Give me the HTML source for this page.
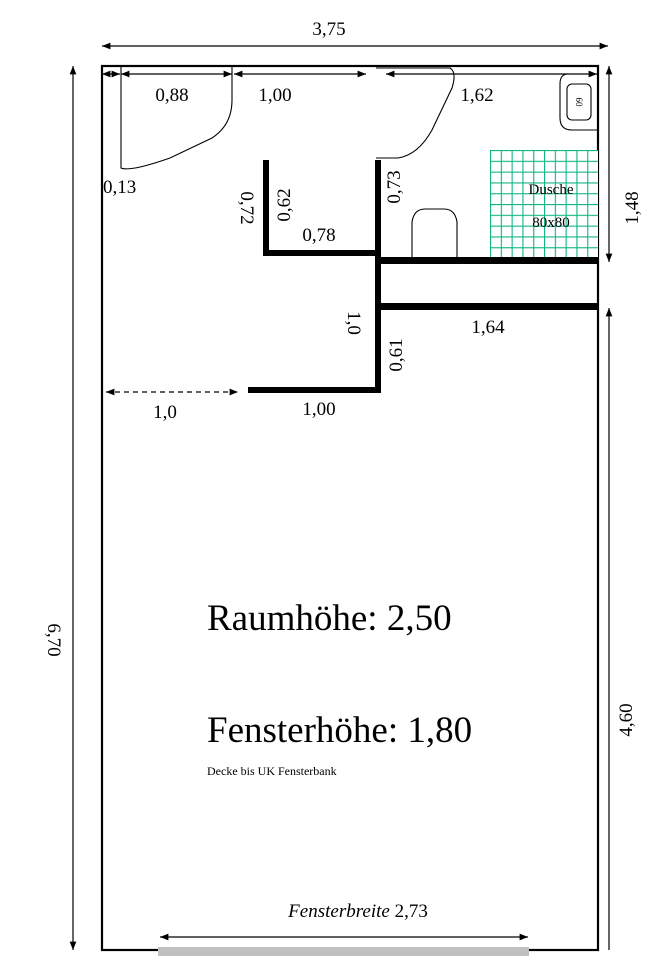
<!DOCTYPE html><html><head><style>body{margin:0;background:#fff}svg{display:block}text{font-family:"Liberation Serif",serif;fill:#000}</style></head><body>
<svg width="666" height="960" viewBox="0 0 666 960">
<defs><marker id="a" viewBox="0 0 10 10" refX="10" refY="5" markerWidth="7" markerHeight="7" orient="auto-start-reverse"><path d="M0,1L10,5L0,9z" fill="#000"/></marker>
<pattern id="g" width="10.8" height="10.8" patternUnits="userSpaceOnUse" x="490" y="150"><rect width="10.8" height="10.8" fill="#fff"/><path d="M0,0H10.8M0,0V10.8" stroke="#10b585" stroke-width="2.2"/></pattern></defs>
<g fill="none" stroke="#000" stroke-width="1.2">
<line x1="102" y1="46" x2="608" y2="46" marker-start="url(#a)" marker-end="url(#a)"/>
<line x1="73" y1="66" x2="73" y2="950" marker-start="url(#a)" marker-end="url(#a)"/>
<line x1="609" y1="66" x2="609" y2="262" marker-start="url(#a)" marker-end="url(#a)"/>
<line x1="609" y1="308" x2="609" y2="950" marker-start="url(#a)"/>
<line x1="160" y1="937" x2="528" y2="937" marker-start="url(#a)" marker-end="url(#a)"/>
<line x1="102" y1="74" x2="120" y2="74" marker-start="url(#a)" marker-end="url(#a)"/>
<line x1="121" y1="74" x2="232" y2="74" marker-start="url(#a)" marker-end="url(#a)"/>
<line x1="234" y1="74" x2="366" y2="74" marker-start="url(#a)" marker-end="url(#a)"/>
<line x1="386" y1="74" x2="597" y2="74" marker-start="url(#a)" marker-end="url(#a)"/>
<line x1="106" y1="392" x2="238" y2="392" stroke-dasharray="5,4" marker-start="url(#a)" marker-end="url(#a)"/>
</g>
<rect x="102" y="66" width="496" height="884" fill="none" stroke="#000" stroke-width="2.2"/>
<rect x="158" y="947" width="371" height="9" fill="#c0c0c0"/>
<g fill="none" stroke="#000" stroke-width="1.1">
<path d="M121,66V168Q130,172 170,158L212,138Q232,125 232,100V66"/>
<path d="M376,68H450Q457,72 452,88L432,130Q418,155 398,158H376"/>
<path d="M412,258V222Q414,209 425,209H444Q455,209 457,222V258"/>
<path d="M598,74H568Q560,74 560,84V118Q560,130 572,130H598"/>
<rect x="567" y="84" width="24" height="36" rx="5"/>
</g>
<rect x="490" y="150" width="108" height="108" fill="url(#g)"/>
<g fill="#000">
<rect x="263" y="160" width="6" height="96"/>
<rect x="263" y="250" width="118" height="6"/>
<rect x="375" y="160" width="6" height="233"/>
<rect x="375" y="257" width="223" height="7"/>
<rect x="375" y="303" width="223" height="7"/>
<rect x="248" y="387" width="133" height="6"/>
</g>
<g font-size="19">
<text x="329" y="35" text-anchor="middle">3,75</text>
<text x="172" y="101" text-anchor="middle">0,88</text>
<text x="275" y="101" text-anchor="middle">1,00</text>
<text x="477" y="101" text-anchor="middle">1,62</text>
<text x="103" y="193">0,13</text>
<text x="319" y="241" text-anchor="middle">0,78</text>
<text x="488" y="333" text-anchor="middle">1,64</text>
<text x="165" y="418" text-anchor="middle">1,0</text>
<text x="319" y="415" text-anchor="middle">1,00</text>
<text transform="translate(241,208) rotate(90)" text-anchor="middle">0,72</text>
<text transform="translate(290,205) rotate(-90)" text-anchor="middle">0,62</text>
<text transform="translate(400,187) rotate(-90)" text-anchor="middle">0,73</text>
<text transform="translate(348,323) rotate(90)" text-anchor="middle">1,0</text>
<text transform="translate(402,355) rotate(-90)" text-anchor="middle">0,61</text>
<text transform="translate(638,208) rotate(-90)" text-anchor="middle">1,48</text>
<text transform="translate(632,720) rotate(-90)" text-anchor="middle">4,60</text>
<text transform="translate(48,640) rotate(90)" text-anchor="middle">6,70</text>
</g>
<text x="551" y="194" font-size="15" text-anchor="middle">Dusche</text>
<text x="551" y="227" font-size="15" text-anchor="middle">80x80</text>
<text transform="translate(576,102) rotate(90)" font-size="9" text-anchor="middle">60</text>
<text x="207" y="630" font-size="37">Raumhöhe: 2,50</text>
<text x="207" y="742" font-size="37">Fensterhöhe: 1,80</text>
<text x="207" y="775" font-size="12">Decke bis UK Fensterbank</text>
<text x="358" y="917" font-size="19" text-anchor="middle"><tspan font-style="italic">Fensterbreite</tspan>  2,73</text>
</svg></body></html>
